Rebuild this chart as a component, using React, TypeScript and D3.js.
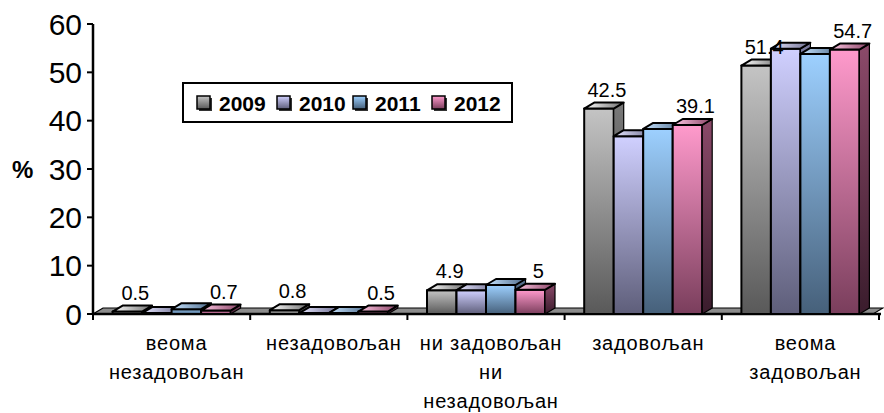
import React from 'react';
import * as d3 from 'd3';

const categoryLines: string[][] = [
  ['веома', 'незадовољан'],
  ['незадовољан'],
  ['ни задовољан', 'ни', 'незадовољан'],
  ['задовољан'],
  ['веома', 'задовољан'],
];
const years = ['2009', '2010', '2011', '2012'];
const s2009 = [0.5, 0.8, 4.9, 42.5, 51.4];
const s2010 = [0.2, 0.2, 4.9, 36.8, 54.9];
const s2011 = [1.0, 0.2, 6.0, 38.3, 53.8];
const s2012 = [0.7, 0.5, 5.0, 39.1, 54.7];
const labelledYears = ['2009', '2012'];
const yTicks = [0, 10, 20, 30, 40, 50, 60];
const yTitle = '%';

const seriesValues = [s2009, s2010, s2011, s2012];

const palette = [
  { ft: '#c4c4c4', fb: '#595959', st: '#7a7a7a', sb: '#2e2e2e', tp1: '#ffffff', tp2: '#6e6e6e' },
  { ft: '#d0d0ff', fb: '#5e5e7a', st: '#7c7ca0', sb: '#2e2e40', tp1: '#e6e6ff', tp2: '#6e6e90' },
  { ft: '#9dd0ff', fb: '#46607a', st: '#5b7896', sb: '#223040', tp1: '#c8e4ff', tp2: '#4e6c8c' },
  { ft: '#ff9acc', fb: '#7a3e5c', st: '#8c4a6a', sb: '#3a1c2c', tp1: '#ffc8e4', tp2: '#8a4466' },
];

const W = 884;
const H = 413;
const DX = 10;
const DY = -6;
const font = '"Liberation Sans", Arial, sans-serif';

export default function App() {
  const x0 = 93;
  const x1 = 879;
  const y = d3.scaleLinear().domain([0, 60]).range([314, 24]);
  const xCat = d3
    .scaleBand<number>()
    .domain(d3.range(categoryLines.length))
    .range([x0, x1])
    .paddingInner(0)
    .paddingOuter(0);
  const groupW = 118;
  const xYear = d3
    .scaleBand<string>()
    .domain(years)
    .range([(xCat.bandwidth() - groupW) / 2, (xCat.bandwidth() - groupW) / 2 + groupW])
    .padding(0);
  const bw = xYear.bandwidth();
  const base = y(0);

  const bars: React.ReactNode[] = [];
  const labels: React.ReactNode[] = [];
  categoryLines.forEach((_, ci) => {
    years.forEach((yr, si) => {
      const v = seriesValues[si][ci];
      const xl = (xCat(ci) as number) + (xYear(yr) as number);
      const xr = xl + bw;
      const yt = y(v);
      const key = `${ci}-${si}`;
      bars.push(
        <g key={key}>
          <rect x={xl} y={yt} width={bw} height={base - yt} fill={`url(#front${si})`} stroke="#000" strokeWidth={2} strokeLinejoin="round" />
          <polygon
            points={`${xr},${yt} ${xr + DX},${yt + DY} ${xr + DX},${base + DY} ${xr},${base}`}
            fill={`url(#side${si})`}
            stroke="#000"
            strokeWidth={1.2}
            strokeLinejoin="round"
          />
          <polygon
            points={`${xl},${yt} ${xl + DX},${yt + DY} ${xr + DX},${yt + DY} ${xr},${yt}`}
            fill={`url(#top${si})`}
            stroke="#000"
            strokeWidth={2}
            strokeLinejoin="round"
          />
        </g>
      );
      if (labelledYears.includes(yr)) {
        labels.push(
          <text key={'l' + key} x={xl + bw / 2 + 8} y={yt - 12} textAnchor="middle" fontSize={20} fontFamily={font} fill="#000">
            {String(v)}
          </text>
        );
      }
    });
  });

  const legendX = [197, 277, 353, 432];

  return (
    <svg width={W} height={H} style={{ position: 'absolute', left: 0, top: 0, background: '#fff' }}>
      <defs>
        {palette.map((p, i) => (
          <React.Fragment key={i}>
            <linearGradient id={`front${i}`} x1="0" y1="0" x2="0" y2="1">
              <stop offset="0" stopColor={p.ft} />
              <stop offset="1" stopColor={p.fb} />
            </linearGradient>
            <linearGradient id={`side${i}`} x1="0" y1="0" x2="0" y2="1">
              <stop offset="0" stopColor={p.st} />
              <stop offset="1" stopColor={p.sb} />
            </linearGradient>
            <linearGradient id={`top${i}`} x1="0" y1="0" x2="1" y2="0">
              <stop offset="0" stopColor={p.tp1} />
              <stop offset="1" stopColor={p.tp2} />
            </linearGradient>
          </React.Fragment>
        ))}
      </defs>

      <polygon
        points={`${x0},${base} ${x1 - 6},${base} ${x1 + 4},${base + DY} ${x0 + DX},${base + DY}`}
        fill="#8c8c8c"
        stroke="#000"
        strokeWidth={1.2}
      />

      <line x1={x0} y1={y(60)} x2={x0} y2={base} stroke="#000" strokeWidth={2.5} />
      {yTicks.map((t) => (
        <g key={t}>
          <line x1={x0 - 6} x2={x0} y1={y(t)} y2={y(t)} stroke="#000" strokeWidth={2} />
          <text x={82} y={y(t)} dy="0.36em" textAnchor="end" fontSize={30} fontFamily={font} fill="#000">
            {t}
          </text>
        </g>
      ))}
      <text x={12} y={y(30)} dy="0.36em" fontSize={24} fontWeight="bold" fontFamily={font} fill="#000">
        {yTitle}
      </text>

      <line x1={x0} x2={x1 + 2} y1={base} y2={base} stroke="#000" strokeWidth={2.5} />
      {d3.range(categoryLines.length + 1).map((i) => {
        const xx = x0 + i * xCat.bandwidth();
        return <line key={i} x1={xx} x2={xx} y1={base} y2={base + 6} stroke="#000" strokeWidth={2} />;
      })}

      {bars}
      {labels}

      {categoryLines.map((lines, ci) => (
        <text key={ci} textAnchor="middle" fontSize={20} letterSpacing={0.8} fontFamily={font} fill="#000">
          {lines.map((ln, li) => (
            <tspan key={li} x={(xCat(ci) as number) + xCat.bandwidth() / 2 + 5} y={350 + li * 29}>
              {ln}
            </tspan>
          ))}
        </text>
      ))}

      <rect x={183} y={83} width={329} height={39} fill="#fff" stroke="#000" strokeWidth={2} />
      {years.map((yr, i) => (
        <g key={yr}>
          <rect x={legendX[i] + 2} y={98} width={13} height={13} fill="#333" />
          <rect x={legendX[i]} y={96} width={13} height={13} fill={`url(#front${i})`} stroke="#000" strokeWidth={1.5} />
          <text x={legendX[i] + 22} y={111} fontSize={21} fontWeight="bold" fontFamily={font} fill="#000">
            {yr}
          </text>
        </g>
      ))}
    </svg>
  );
}
